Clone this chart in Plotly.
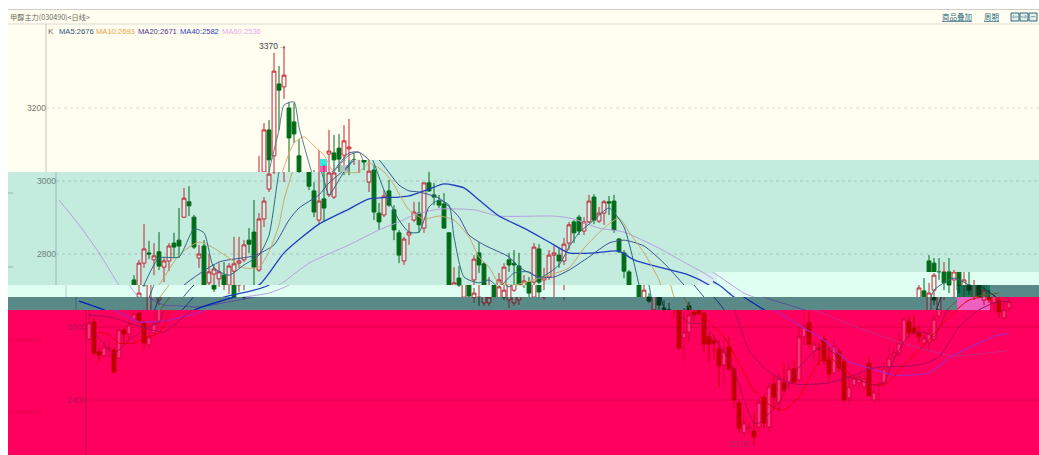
import plotly.graph_objects as go

opens = [2567,2614,2532,2521,2540,2537,2515,2592,2581,2622,
2638,2611,2551,2584,2614,2729,2674,2775,2803,2784,
2806,2764,2781,2830,2838,2901,2943,2901,2789,2822,
2721,2745,2732,2742,2715,2753,2775,2784,2838,2860,
2756,2896,2978,3025,3140,3069,3266,3258,3200,3162,
3069,2973,2893,2951,2962,2956,3074,3077,3090,3071,
3088,3058,2997,3030,2912,2907,2973,2921,2858,2781,
2852,2893,2912,2871,2995,2962,2945,2937,2858,2682,
2734,2666,2666,2729,2803,2773,2674,2666,2674,2701,
2784,2775,2767,2682,2723,2723,2814,2729,2737,2797,
2797,2781,2830,2888,2901,2863,2888,2956,2890,2912,
2943,2945,2841,2803,2751,2647,2682,2652,2647,2570,
2586,2641,2658,2636,2573,2562,2540,2496,2545,2485,
2392,2310,2321,2315,2326,2406,2326,2444,2392,2447,
2447,2485,2455,2573,2611,2534,2542,2567,2510,2474,
2532,2504,2406,2441,2447,2436,2501,2400,2441,2447,
2490,2521,2529,2556,2614,2597,2584,2556,2559,2567,
2630,2699,2647,2701,2781,2775,2751,2729,2751,2674,
2715,2666,2674,2625,2652]
highs = [2647,2625,2542,2564,2564,2545,2600,2597,2614,2647,
2644,2619,2584,2641,2715,2742,2784,2882,2836,2830,
2860,2792,2830,2858,2926,2981,2986,2907,2825,2838,
2800,2770,2775,2778,2775,2847,2847,2838,2871,2948,
2912,2956,3069,3159,3167,3351,3315,3370,3217,3214,
3115,2997,3025,3030,3085,3044,3140,3126,3129,3153,
3170,3079,3058,3044,2940,2975,3003,2934,2866,2847,
2885,2943,2943,2995,3025,2995,2962,2967,2860,2764,
2767,2707,2715,2797,2833,2778,2737,2715,2748,2775,
2803,2811,2803,2742,2737,2830,2827,2762,2811,2822,
2816,2844,2888,2893,2907,2901,2962,2964,2929,2948,
2959,2962,2844,2811,2756,2715,2693,2674,2666,2641,
2647,2652,2669,2641,2584,2578,2564,2570,2573,2490,
2400,2367,2340,2364,2400,2414,2447,2468,2474,2501,
2504,2510,2600,2633,2641,2559,2559,2578,2545,2564,
2542,2518,2468,2468,2477,2474,2518,2433,2449,2501,
2556,2542,2584,2625,2633,2633,2606,2584,2597,2633,
2715,2734,2721,2748,2797,2789,2789,2778,2789,2756,
2751,2729,2701,2688,2679]
lows = [2562,2518,2504,2518,2518,2474,2512,2556,2564,2614,
2611,2540,2542,2578,2606,2710,2660,2762,2786,2742,
2756,2723,2753,2789,2789,2899,2904,2814,2762,2696,
2710,2701,2690,2674,2696,2701,2762,2778,2803,2715,
2751,2874,2970,3019,3025,2997,3140,3225,3022,3104,
2975,2901,2882,2888,2956,2951,3025,3016,3016,3044,
3022,3030,2970,2893,2866,2901,2929,2838,2775,2770,
2825,2888,2858,2858,2970,2934,2926,2869,2710,2666,
2658,2658,2658,2715,2748,2674,2652,2658,2660,2696,
2751,2707,2682,2674,2682,2701,2718,2674,2729,2701,
2762,2770,2811,2830,2852,2852,2885,2882,2885,2880,
2907,2858,2803,2734,2666,2633,2647,2625,2537,2501,
2559,2614,2630,2532,2504,2510,2436,2436,2479,2378,
2310,2299,2307,2276,2312,2323,2312,2373,2367,2422,
2427,2447,2449,2551,2545,2504,2496,2496,2449,2468,
2477,2394,2386,2430,2427,2422,2408,2394,2394,2433,
2477,2510,2521,2551,2570,2578,2556,2537,2537,2559,
2614,2660,2638,2674,2729,2701,2693,2674,2688,2660,
2666,2641,2625,2619,2641]
closes = [2611,2529,2523,2545,2542,2477,2592,2581,2606,2636,
2614,2556,2573,2611,2693,2715,2775,2814,2800,2795,
2767,2781,2822,2819,2822,2953,2932,2819,2800,2704,
2751,2759,2751,2682,2767,2773,2781,2825,2827,2764,
2896,2945,3019,3140,3058,3301,3249,3290,3118,3129,
2986,2915,2945,2926,3022,3022,3082,3058,3060,3110,
3093,3052,3027,2915,2888,2959,2934,2866,2797,2841,
2860,2915,2880,2995,2973,2956,2934,2871,2715,2721,
2685,2693,2682,2786,2770,2682,2710,2701,2729,2764,
2770,2770,2693,2726,2696,2819,2723,2737,2797,2803,
2781,2827,2880,2858,2863,2888,2945,2893,2912,2943,
2940,2866,2806,2753,2671,2701,2660,2649,2542,2586,
2633,2633,2636,2553,2553,2556,2493,2534,2485,2400,
2323,2337,2326,2299,2394,2337,2436,2408,2458,2427,
2485,2449,2573,2600,2553,2553,2540,2507,2471,2548,
2488,2400,2436,2460,2463,2458,2411,2422,2444,2485,
2515,2529,2556,2622,2584,2586,2573,2570,2584,2622,
2707,2674,2693,2742,2751,2721,2715,2751,2701,2729,
2674,2701,2641,2647,2669]

ma5_idx = [1,5,8,12,14,17,20,24,27,29,31,34,37,40,42,44,46,47,49,50,52,53,54,56,57,60,62,63,65,68,70,72,74,76,78,79,81,84,86,88,91,94,96,100,102,104,107,110,113,115,116,117,120,123,125,129,131,133,134,138,140,142,146,149,151,154,157,159,161,164,167,169,171,173,175,177,180,184]
ma5_val = [2586,2529,2564,2600,2614,2715,2789,2792,2869,2858,2762,2742,2770,2797,2852,3025,3140,3208,3217,3148,3049,3003,2962,3003,3025,3071,3079,3049,2975,2893,2860,2860,2929,2948,2934,2847,2737,2721,2729,2710,2748,2751,2734,2770,2819,2858,2893,2926,2874,2775,2715,2652,2611,2608,2573,2482,2400,2337,2337,2394,2447,2490,2542,2529,2468,2455,2441,2449,2510,2578,2586,2573,2627,2701,2721,2734,2715,2676]
ma10_idx = [2,4,6,9,11,14,15,16,20,24,28,31,34,37,40,42,44,45,47,49,51,53,55,57,60,62,65,67,70,73,76,79,82,84,86,88,91,98,102,105,109,112,114,117,120,121,122,123,127,130,133,137,139,142,146,148,151,155,159,163,167,172,176,180,184]
ma10_val = [2586,2578,2556,2556,2570,2584,2606,2641,2715,2797,2833,2816,2789,2762,2764,2806,2880,2948,3038,3104,3121,3096,3071,3025,3025,3049,3025,2989,2921,2896,2904,2893,2847,2792,2764,2721,2715,2742,2762,2816,2871,2899,2860,2803,2729,2682,2655,2627,2573,2501,2427,2378,2373,2408,2504,2518,2482,2449,2441,2496,2551,2627,2674,2685,2693]
ma20_idx = [0,5,8,15,17,21,25,32,39,43,46,48,52,54,57,60,62,64,68,70,72,76,80,82,85,90,92,96,99,102,106,110,113,117,121,125,127,129,132,136,141,148,152,157,166,170,174,178,181,184]
ma20_val = [2633,2625,2611,2586,2606,2652,2715,2778,2795,2825,2893,2926,2962,2995,3030,3077,3079,3058,2989,2973,2970,2953,2901,2852,2825,2792,2764,2737,2737,2756,2792,2830,2838,2822,2775,2715,2682,2647,2537,2477,2444,2447,2463,2488,2496,2518,2600,2647,2666,2671]
ma40_idx = [0,5,10,16,22,24,31,40,45,52,58,62,68,70,74,77,81,84,88,93,98,102,107,112,115,120,126,130,133,137,143,147,152,156,161,168,172,178,181,184]
ma40_val = [2671,2647,2614,2619,2640,2652,2682,2715,2803,2882,2923,2951,2956,2959,2978,2992,2981,2948,2904,2871,2833,2803,2803,2808,2784,2764,2742,2715,2682,2647,2597,2564,2504,2488,2468,2474,2515,2556,2575,2582]
ma60_idx = [0,4,8,12,14,17,20,24,30,35,40,44,50,58,64,68,71,76,83,88,99,103,108,113,120,126,129,135,138,145,154,162,169,173,178,184]
ma60_val = [2948,2880,2803,2715,2682,2660,2658,2655,2669,2682,2693,2715,2775,2825,2866,2888,2907,2923,2921,2904,2904,2896,2871,2860,2816,2770,2748,2693,2677,2647,2597,2559,2532,2521,2526,2536]

grid_prices = [3200, 3000, 2800, 2600, 2400]
legend_labels = ["MA5:2676", "MA10:2693", "MA20:2671", "MA40:2582", "MA60:2536"]
title_text = "甲醇主力(030490)<日线>"

W, H = 1039, 455
NARROW = "Liberation Sans, Arial"
CJK = "Noto Sans CJK SC"

def price_at(y):
    return 3496 - 2.74 * y
def y_at(p):
    return (3496 - p) / 2.74
def px(x):
    return x / W
def py(y):
    return 1 - y / H

BG = {"ivory": "#FFFEF0", "teal": "#C3EBDE", "light": "#E0FFF3", "dark": "#5A8A88", "pink": "#FF005F"}
SHIFT = {"ivory": 0, "teal": 10, "light": 20, "dark": 30, "pink": 40}
UP = {"ivory": "#C8202E", "teal": "#C02838", "light": "#C02838", "dark": "#7A1E28", "pink": "#D4003C"}
DN = {"ivory": "#006B18", "teal": "#006B18", "light": "#006B18", "dark": "#00381C", "pink": "#BE0000"}
UPFILL = {"ivory": "rgba(255,255,255,0.25)", "teal": "rgba(255,255,255,0.25)", "light": "rgba(255,255,255,0.25)",
          "dark": "rgba(255,255,255,0.1)", "pink": "rgba(255,140,175,0.35)"}
LINES = {
    "ivory": ["#557C92", "#E6AE68", "#48598C", "#2848C0", "#C8B0E8"],
    "teal":  ["#2A6A80", "#C8A868", "#3D5590", "#2040C0", "#B8A0E0"],
    "light": ["#2A6A80", "#C8A868", "#3D5590", "#2040C0", "#B8A0E0"],
    "dark":  ["#0A3848", "#6A5A30", "#1A3080", "#0028B0", "#5A4CA0"],
    "pink":  ["#B00C48", "#E00000", "#A80C58", "#B420B0", "#C82880"],
}
PANELS = [
    ("ivory", 8, 345, 24, 172), ("ivory", 345, 1039, 24, 160),
    ("teal", 8, 345, 172, 285), ("teal", 345, 713, 160, 285), ("teal", 713, 1039, 160, 272),
    ("light", 8, 713, 285, 297), ("light", 713, 957, 272, 297), ("light", 957, 1039, 272, 285),
    ("dark", 8, 957, 297, 310), ("dark", 957, 1039, 285, 297),
    ("pink", 8, 957, 310, 455), ("pink", 957, 1039, 297, 455),
]

fig = go.Figure()
layout = dict(
    width=W, height=H, autosize=False,
    margin=dict(l=0, r=0, t=0, b=0, pad=0),
    paper_bgcolor="white", plot_bgcolor="rgba(0,0,0,0)",
    showlegend=False, boxgap=0.15, boxgroupgap=0.1, hovermode=False,
)
shapes, annots = [], []

def rect(x0, y0, x1, y1, color):
    shapes.append(dict(type="rect", xref="paper", yref="paper", x0=px(x0), x1=px(x1), y0=py(y1), y1=py(y0),
                       fillcolor=color, line=dict(width=0), layer="below"))
def hline(x0, x1, y, color, dash="solid", layer="below"):
    shapes.append(dict(type="line", xref="paper", yref="paper", x0=px(x0), x1=px(x1), y0=py(y), y1=py(y),
                       line=dict(color=color, width=1, dash=dash), layer=layer))
def vline(x, y0, y1, color):
    shapes.append(dict(type="line", xref="paper", yref="paper", x0=px(x), x1=px(x), y0=py(y1), y1=py(y0),
                       line=dict(color=color, width=1), layer="below"))
def text(x, y, s, color, size=8.5, font=NARROW, anchor="left"):
    annots.append(dict(xref="paper", yref="paper", x=px(x), y=py(y), text=s, showarrow=False,
                       xanchor=anchor, yanchor="middle", borderpad=0,
                       font=dict(family=font, size=size, color=color)))

# band backgrounds
rect(8, 10, 1039, 24, BG["ivory"])
for band, x0, x1, y0, y1 in PANELS:
    rect(x0, y0, x1, y1, BG[band])

# header rules
hline(8, 1039, 9.5, "#CFCFC6")
hline(8, 1039, 24, "#DADAD0")

# axis lines
vline(46, 24, 172, "#C4C4BC")
vline(56, 172, 285, "#9DB8B4")
vline(66, 285, 297, "#B8CEC8")
vline(76, 297, 310, "#3A6664")
vline(86, 310, 455, "#C8004A")

# grid
grid_style = [(46, "#DDDDD0"), (56, "#A6C6BA"), (56, "#A6C6BA"), (86, "#DC0048"), (86, "#DC0048")]
for price, (gx, gc) in zip(grid_prices, grid_style):
    hline(gx, 1039, y_at(price), gc, "dot" if price > 2700 else "solid")
hline(8, 13, 193, "#9DB8B4")
hline(8, 13, 267, "#9DB8B4")
hline(8, 42, 340, "#DC0048")
hline(8, 42, 412, "#DC0048")

# stray patches of the picture
rect(320, 159, 348, 172, "#F4FFFA")
rect(320, 159, 327, 172, "#30E8E0")
rect(320, 166, 327, 172, "#F060B0")
rect(338, 165, 350, 172, "#B4C4BC")
rect(698, 273, 717, 285, "#D8EEEE")
rect(957, 285, 990, 297, "#0F7A55")
rect(957, 297, 990, 310, "#F060C0")

for k, (band, x0, x1, y0, y1) in enumerate(PANELS, start=1):
    s = SHIFT[band]
    xa, ya = f"x{k}", f"y{k}"
    layout[f"xaxis{k}"] = dict(domain=[px(x0), px(x1)], range=[(x0 - 49 - s) / 5, (x1 - 49 - s) / 5],
                               visible=False, anchor=ya, fixedrange=True, rangeslider=dict(visible=False))
    layout[f"yaxis{k}"] = dict(domain=[py(y1), py(y0)], range=[price_at(y1), price_at(y0)],
                               visible=False, anchor=xa, fixedrange=True)
    fig.add_trace(go.Candlestick(
        x=list(range(len(opens))), open=opens, high=highs, low=lows, close=closes,
        xaxis=xa, yaxis=ya, whiskerwidth=0, hoverinfo="skip",
        increasing=dict(line=dict(color=UP[band], width=1), fillcolor=UPFILL[band]),
        decreasing=dict(line=dict(color=DN[band], width=1), fillcolor=DN[band]),
    ))
    series = [(ma60_idx, ma60_val, 4), (ma40_idx, ma40_val, 3), (ma20_idx, ma20_val, 2),
              (ma10_idx, ma10_val, 1), (ma5_idx, ma5_val, 0)]
    for idx, val, c in series:
        fig.add_trace(go.Scatter(
            x=idx, y=val, xaxis=xa, yaxis=ya, mode="lines", hoverinfo="skip",
            line=dict(color=LINES[band][c], width=1.3 if c == 3 else 1, shape="spline", smoothing=0.6),
        ))

# texts
text(9, 17, title_text, "#6A6A60", size=7.2, font=CJK)
text(47, 32, "K", "#666666", size=8)
for x, s, c in zip([58, 95, 137, 179, 221], legend_labels,
                   ["#2F5278", "#E8A040", "#52358C", "#3040C0", "#E8A8E8"]):
    text(x, 32, s, c, size=7.6)
for x, price, c in [(26, 3200, "#77776E"), (36, 3000, "#6C8480"), (36, 2800, "#6C8480"),
                    (66, 2600, "#B8105A"), (66, 2400, "#B8105A")]:
    text(x, y_at(price), str(price), c)
text(258, 46, "3370→", "#444444")
text(728, 444, "2276→", "#B8205A")
text(941, 17, "<u>商品叠加</u>", "#2A6A80", size=7.5, font=CJK)
text(983, 17, "<u>周期</u>", "#2A6A80", size=7.5, font=CJK)
for x, g in [(1011, "⇦"), (1020, "⇨"), (1029, "−")]:
    shapes.append(dict(type="rect", xref="paper", yref="paper", x0=px(x), x1=px(x + 8), y0=py(21), y1=py(13),
                       line=dict(color="#2A6A80", width=1), fillcolor="#E6EFE6", layer="above"))
    text(x + 4, 17, g, "#2A6A80", size=7, font="DejaVu Sans", anchor="center")

layout["shapes"] = shapes
layout["annotations"] = annots
fig.update_layout(**layout)
fig.write_html("out.html", config=dict(displayModeBar=False),
               post_script="document.body.style.margin='0';document.body.style.overflow='hidden';")
